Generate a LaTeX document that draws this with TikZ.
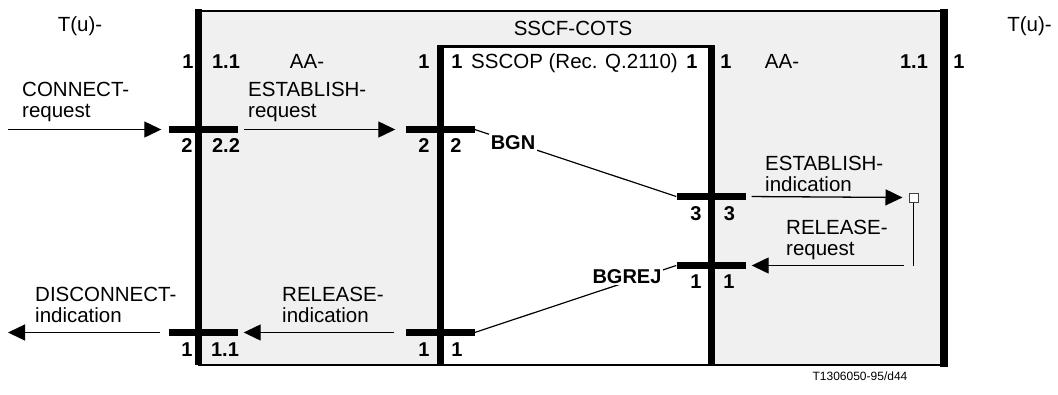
\documentclass[tikz,border=0pt]{standalone}
\usepackage{fontspec}
\setmainfont{Liberation Sans}
\usetikzlibrary{arrows.meta}
\definecolor{boxgray}{RGB}{240,240,240}
\begin{document}
\begin{tikzpicture}[x=1pt,y=-1pt,
  lbl/.style={font=\fontsize{20.5}{21}\selectfont, inner sep=0pt, anchor=base},
  ml/.style={font=\fontsize{20.5}{21}\selectfont, inner sep=0pt, align=left, anchor=base west},
  num/.style={font=\fontsize{20}{20}\selectfont\bfseries, inner sep=0pt, anchor=base},
  bar/.style={fill=black, inner sep=0pt, minimum width=69pt, minimum height=7pt},
  arr/.style={line width=1.3pt, -{Triangle[length=17pt,width=16pt]}},
  thin/.style={line width=1.2pt},
  wall/.style={line width=7pt},
  ]
\useasboundingbox (0,0) rectangle (1058,394);
% boxes
\fill[boxgray] (202,11) rectangle (944,365);
\fill[white] (440,46) rectangle (711.5,365);
\draw[line width=1.8pt] (198,11) -- (944,11);
\draw[line width=1.8pt] (198,365) -- (944,365);
\draw[line width=3pt] (437,46.5) -- (715,46.5);
\draw[wall] (198.5,9) -- (198.5,365);
\draw[wall] (440,45) -- (440,365);
\draw[wall] (711.5,45) -- (711.5,365);
\draw[line width=8pt] (944,9) -- (944,367);
% bars
\node[bar] (barA) at (203,129.5) {};
\node[bar] (barB) at (440,129.5) {};
\node[bar] (barC) at (711,196.5) {};
\node[bar] (barD) at (711,265.5) {};
\node[bar] (barE) at (203,332.5) {};
\node[bar] (barF) at (440,332.5) {};
\node[draw=black!75, line width=1pt, fill=white, minimum size=9pt, inner sep=0pt] (sq) at (913.5,197.5) {};
\coordinate (cin) at (8,129.5);
\coordinate (dout) at (8,332.5);
\coordinate (rr) at (913.5,265.5);
% connectors
\draw[arr, shorten >=7pt] (cin) -- (barA.west);
\draw[arr, shorten <=6pt, shorten >=10pt] (barA.east) -- (barB.west);
\draw[thin] (barB.east) -- (barC.west) node[pos=0.19, num, anchor=center, fill=white, inner sep=1.5pt] (bgn) {BGN};
\draw[arr, shorten <=6pt, shorten >=6pt] (barC.east) -- (sq.west);
\draw[line width=1.2pt] (sq.south) -- (rr);
\draw[arr, shorten <=10pt, shorten >=6pt] (rr) -- (barD.east);
\draw[thin] (barF.east) -- (barD.west);
\draw[arr, shorten <=11pt, shorten >=6pt] (barF.west) -- (barE.east);
\draw[arr, shorten <=8pt] (barE.west) -- (dout);
\node[num, fill=white, inner sep=1.5pt] (bgrej) at (627,283) {BGREJ};
% labels
\node[lbl] (tl) at (80,31) {T(u)-};
\node[lbl] (tr) at (1029.5,31) {T(u)-};
\node[lbl] (sscf) at (573,35) {SSCF-COTS};
\node[num] (t1) at (188,68) {1};
\node[num] (t2) at (226,68) {1.1};
\node[lbl] (aa1) at (307,68) {AA-};
\node[num] (t3) at (424,68) {1};
\node[num] (t4) at (457,68) {1};
\node[lbl, anchor=base west] (sscop) at (471,68) {SSCOP (Rec. Q.2110)};
\node[num] (t5) at (692,68) {1};
\node[num] (t6) at (726,68) {1};
\node[lbl] (aa2) at (782,68) {AA-};
\node[num] (t7) at (914,68) {1.1};
\node[num] (t8) at (959,68) {1};
\node[num] (a1) at (187,152) {2};
\node[num] (a2) at (226,152) {2.2};
\node[num] (b1) at (424,152) {2};
\node[num] (b2) at (456,152) {2};
\node[num] (c1) at (696,220) {3};
\node[num] (c2) at (729.5,220) {3};
\node[num] (d1) at (696,288) {1};
\node[num] (d2) at (729,288) {1};
\node[num] (e1) at (187,356) {1};
\node[num] (e2) at (225,356) {1.1};
\node[num] (f1) at (424,356) {1};
\node[num] (f2) at (457,356) {1};
\node[ml] (connreq) at (22,117) {CONNECT-\\request};
\node[ml] (estreq) at (248,117) {ESTABLISH-\\request};
\node[ml] (estind) at (765,191) {ESTABLISH-\\indication};
\node[ml] (relreq) at (786,255) {RELEASE-\\request};
\node[ml] (relind) at (282,322) {RELEASE-\\indication};
\node[ml] (disind) at (35,322) {DISCONNECT-\\indication};
\node[font=\fontsize{12}{12}\selectfont, inner sep=0pt, anchor=base] (code) at (860,380) {T1306050-95/d44};
\end{tikzpicture}
\end{document}
